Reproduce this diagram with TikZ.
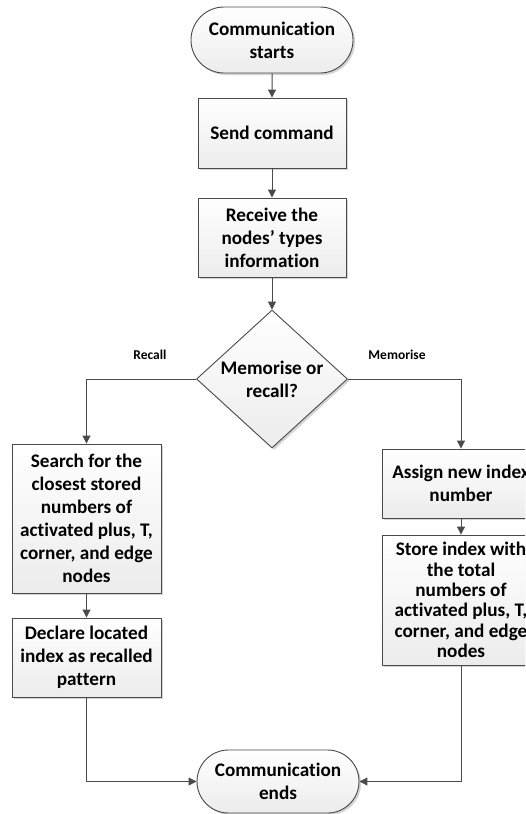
\documentclass[tikz,border=0pt]{standalone}
\usepackage{fontspec}
\setmainfont{Carlito}[Ligatures={NoCommon,NoContextual}]
\usetikzlibrary{shapes.geometric,shapes.misc,arrows.meta,shadows}
\definecolor{edgegray}{HTML}{4A4A4A}
\definecolor{fillbot}{HTML}{ECECEC}
\definecolor{shadowgray}{HTML}{D4D4D4}
\tikzset{
  base/.style={draw=edgegray, line width=0.9pt, top color=white, bottom color=fillbot,
    general shadow={fill=shadowgray, shadow xshift=2pt, shadow yshift=-2pt},
    font=\fontsize{19.2}{23}\selectfont\bfseries, align=center, inner sep=0pt},
  procbox/.style={base, rectangle},
  termbox/.style={base, rounded rectangle},
  decbox/.style={base, diamond},
  tightlines/.style={font=\fontsize{19.2}{20.3}\selectfont\bfseries},
  flow/.style={draw=edgegray, line width=1pt, -{Triangle[length=8pt,width=8pt]}},
  branchlabel/.style={font=\fontsize{13.5}{16}\selectfont\bfseries, inner sep=0pt}
}
\begin{document}
\begin{tikzpicture}[x=1pt, y=-1pt]
\clip (0,0) rectangle (525,814);
\fill[white] (0,0) rectangle (525,814);

\node[termbox, minimum width=162pt, minimum height=66pt] (start) at (272,40) {Communication\\starts};
\node[procbox, minimum width=148pt, minimum height=70pt] (send) at (272,133) {Send command};
\node[procbox, minimum width=148pt, minimum height=79pt] (recv) at (272,237.5) {Receive the\\nodes’ types\\information};
\node[decbox, minimum width=151pt, minimum height=138pt, aspect=1.094] (dec) at (272,379) {Memorise or\\recall?};
\node[procbox, minimum width=149pt, minimum height=149pt] (search) at (86.5,518.5) {Search for the\\closest stored\\numbers of\\activated plus, T,\\corner, and edge\\nodes};
\node[procbox, minimum width=149pt, minimum height=79pt] (declare) at (86.5,657.5) {Declare located\\index as recalled\\pattern};
\node[procbox, minimum width=158pt, minimum height=69pt] (assign) at (461,483.5) {Assign new index\\number};
\node[procbox, tightlines, minimum width=158pt, minimum height=130pt] (store) at (461,600) {Store index with\\the total\\numbers of\\activated plus, T,\\corner, and edge\\nodes};
\node[termbox, minimum width=162pt, minimum height=63pt] (end) at (278,781.5) {Communication\\ends};

\node[branchlabel] (lrecall) at (150,355) {Recall};
\node[branchlabel] (lmem) at (397,355) {Memorise};

\draw[flow] (start) -- (send);
\draw[flow] (send) -- (recv);
\draw[flow] (recv) -- (dec);
\draw[flow] (dec.west) -| (search.north);
\draw[flow] (dec.east) -| (assign.north);
\draw[flow] (search) -- (declare);
\draw[flow] (assign) -- (store);
\draw[flow] (declare.south) |- (end.west);
\draw[flow] (store.south) |- (end.east);
\end{tikzpicture}
\end{document}
